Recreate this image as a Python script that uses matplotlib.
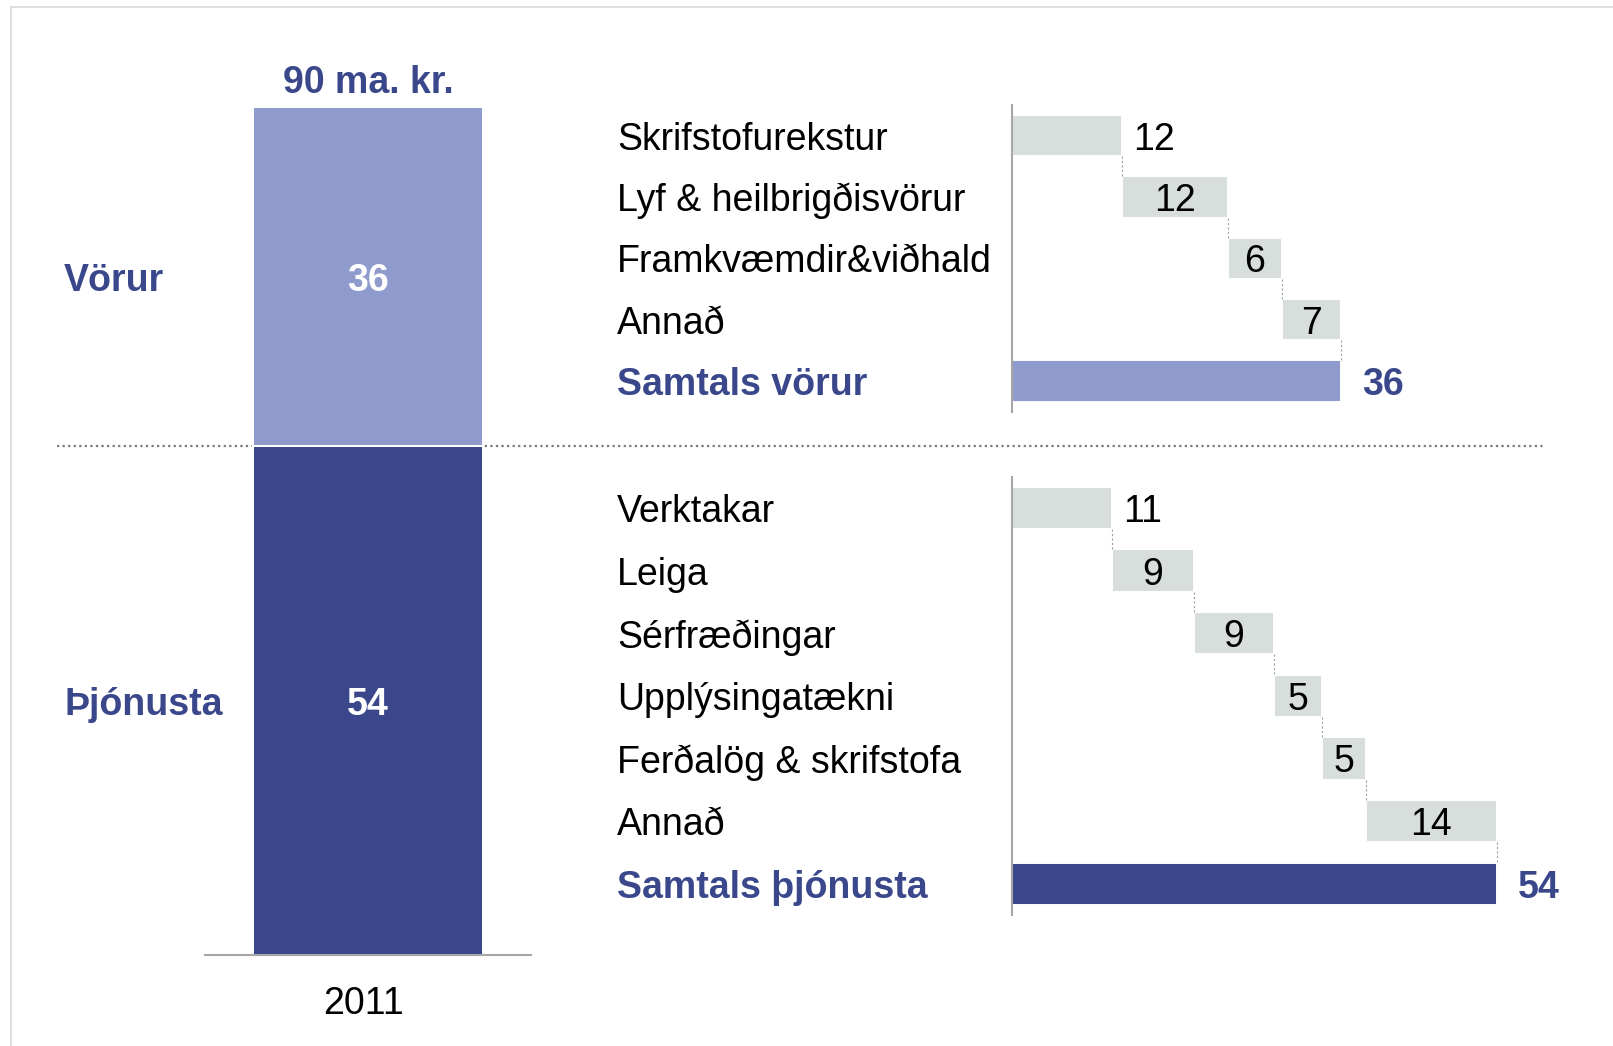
import matplotlib
matplotlib.use('Agg')
from matplotlib import pyplot as plt
from matplotlib.patches import Rectangle
from matplotlib import transforms

plt.rcParams['font.family'] = ['Liberation Sans', 'DejaVu Sans']

# gögn
year = '2011'
total_text = '90 ma. kr.'
groups = ['Vörur', 'Þjónusta']
group_values = [36, 54]
group_text = ['36', '54']

vorur_cats = ['Skrifstofurekstur', 'Lyf & heilbrigðisvörur', 'Framkvæmdir&viðhald', 'Annað']
vorur_vals = [12.2, 11.8, 6.0, 6.6]
vorur_text = ['12', '12', '6', '7']

thjon_cats = ['Verktakar', 'Leiga', 'Sérfræðingar', 'Upplýsingatækni', 'Ferðalög & skrifstofa', 'Annað']
thjon_vals = [11.1, 9.1, 8.9, 5.3, 4.9, 14.6]
thjon_text = ['11', '9', '9', '5', '5', '14']

LIGHT = '#8F9BCD'
DARK = '#3A488B'
GREY_BAR = '#D7DEDC'
AXIS_GREY = '#A6A6A6'
FS = 27

W, H = 1613, 1046
fig = plt.figure(figsize=(W / 100, H / 100), dpi=100)


def rect(l, t, r, b):
    return [l / W, 1 - b / H, (r - l) / W, (b - t) / H]


# rammi
fig.add_artist(Rectangle((10.5 / W, -1), 5, 2 - 7 / H, transform=fig.transFigure,
                         fill=False, edgecolor='#D9DEDD', linewidth=1.3))

# staflaða súlan vinstra megin
ax = fig.add_axes(rect(205, 107, 531, 955))
ax.patch.set_visible(False)
bottom = 0
for name, v, t, col in zip(groups[::-1], group_values[::-1], group_text[::-1], [DARK, LIGHT]):
    ax.bar(0, v, bottom=bottom, width=0.705, color=col, edgecolor='white', linewidth=1.4, zorder=1)
    ax.text(0, bottom + v / 2, t, color='white', fontsize=FS, fontweight='bold',
            ha='center', va='center_baseline')
    ax.text(-0.4325, bottom + v / 2, name, transform=ax.get_yaxis_transform(), color=DARK,
            fontsize=FS, fontweight='bold', ha='left', va='center_baseline')
    bottom += v
ax.annotate(total_text, xy=(0, bottom), xytext=(0, 20), textcoords='offset points',
            ha='center', va='center_baseline', fontsize=FS, fontweight='bold', color=DARK)
# punktalína milli flokka
ax.axhline(group_values[1], xmin=(57 - 205) / 326, xmax=(1543 - 205) / 326, color='#7A7A7A',
           linewidth=1.6, linestyle=(0, (1, 1.5)), clip_on=False, zorder=0.5)
ax.set_xlim(-0.5, 0.5)
ax.set_ylim(0, 90)
for s in ['top', 'left', 'right']:
    ax.spines[s].set_visible(False)
ax.spines['bottom'].set_color(AXIS_GREY)
ax.spines['bottom'].set_linewidth(1.5)
ax.set_yticks([])
ax.set_xticks([0], [year])
ax.tick_params(axis='x', length=0, pad=22, labelsize=FS)
for lab in ax.get_xticklabels():
    lab.set_transform(lab.get_transform() + transforms.ScaledTranslation(-5 / 100, 0, fig.dpi_scale_trans))


def waterfall(top, bot, cats, vals, texts, total_name, total_label, total_color):
    ax = fig.add_axes(rect(1012, top, 1600, bot))
    ax.patch.set_visible(False)
    n = len(cats)
    h = 0.675
    start = 0
    for i, (v, t) in enumerate(zip(vals, texts)):
        ax.barh(i, v, left=start, height=h, color=GREY_BAR, edgecolor='white', linewidth=1.4)
        if i == 0:
            ax.annotate(t, xy=(start + v, i), xytext=(8.4, 0), textcoords='offset points',
                        ha='left', va='center_baseline', fontsize=FS)
        else:
            ax.text(start + v / 2, i, t, ha='center', va='center_baseline', fontsize=FS)
        start += v
        ax.vlines(start, i + h / 2, i + 1 - h / 2, colors='#A0A0A0',
                  linestyles=(0, (2, 2)), linewidth=0.8)
    ax.barh(n, start, height=h, color=total_color, edgecolor='white', linewidth=1.4)
    ax.annotate(total_label, xy=(start, n), xytext=(15, 0), textcoords='offset points',
                ha='left', va='center_baseline', fontsize=FS, fontweight='bold', color=DARK)
    for i, c in enumerate(cats):
        ax.text(-0.6718, i, c, transform=ax.get_yaxis_transform(), ha='left',
                va='center_baseline', fontsize=FS)
    ax.text(-0.6718, n, total_name, transform=ax.get_yaxis_transform(), ha='left',
            va='center_baseline', fontsize=FS, fontweight='bold', color=DARK)
    ax.set_xlim(0, 588 / 9.0)
    ax.set_ylim(n + 0.5, -0.5)
    for s in ['top', 'bottom', 'right']:
        ax.spines[s].set_visible(False)
    ax.spines['left'].set_color(AXIS_GREY)
    ax.spines['left'].set_linewidth(1.5)
    ax.set_xticks([])
    ax.set_yticks([])


waterfall(105, 411.7, vorur_cats, vorur_vals, vorur_text, 'Samtals vörur', '36', LIGHT)
waterfall(476.7, 915, thjon_cats, thjon_vals, thjon_text, 'Samtals þjónusta', '54', DARK)

fig.savefig('out.png', dpi=100)
